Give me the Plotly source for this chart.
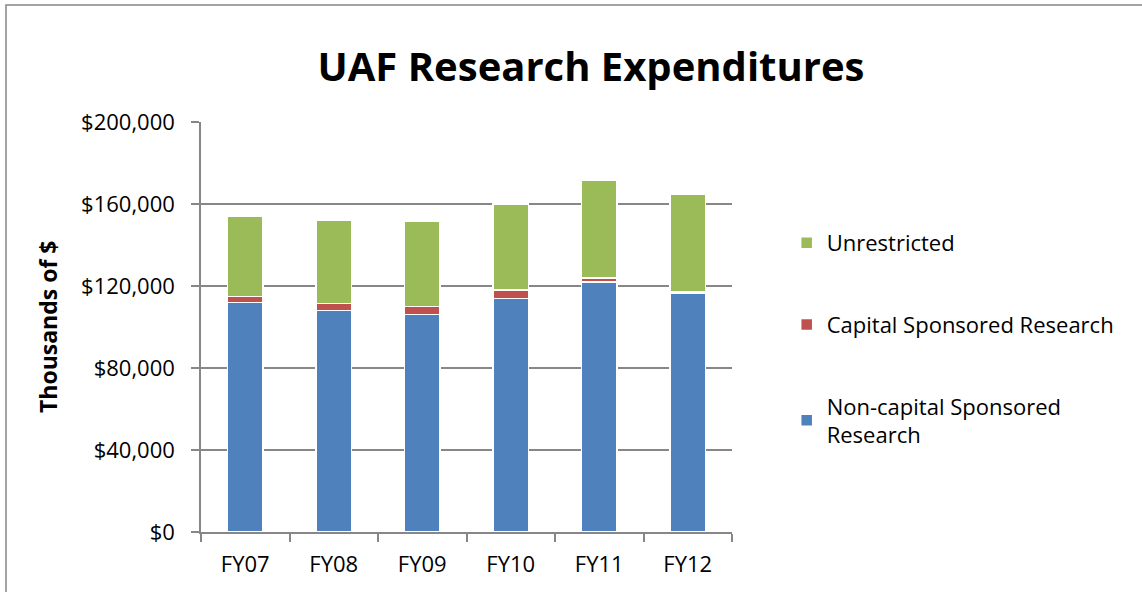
import plotly.graph_objects as go

categories = ["FY07", "FY08", "FY09", "FY10", "FY11", "FY12"]
noncapital = [112000, 108000, 106000, 114000, 122000, 116500]
capital = [3000, 3500, 4000, 4000, 2000, 800]
unrestricted = [39000, 40500, 41500, 42000, 47500, 47700]
tick_vals = [0, 40000, 80000, 120000, 160000, 200000]
tick_text = ["$0", "$40,000", "$80,000", "$120,000", "$160,000", "$200,000"]

FONT = "Open Sans, Lato, sans-serif"
GRID = "#878787"

fig = go.Figure()
series = [
    ("Non-capital Sponsored<br>Research", noncapital, "#4F81BD", 3),
    ("Capital Sponsored Research", capital, "#C0504D", 2),
    ("Unrestricted", unrestricted, "#9BBB59", 1),
]
for i, (name, vals, col, rank) in enumerate(series):
    fig.add_trace(go.Bar(
        x=categories, y=vals, name=name, legendgroup=f"g{i}", legendrank=rank,
        marker=dict(color=col, line=dict(color="white", width=1.5)),
    ))

fig.update_layout(
    width=1142, height=592,
    barmode="stack", bargap=0.6,
    plot_bgcolor="white", paper_bgcolor="white",
    margin=dict(l=201, r=410, t=122, b=60),
    font=dict(family=FONT, size=22, color="#000000"),
    title=dict(text="<b>UAF Research Expenditures</b>", font=dict(size=40, family=FONT),
               x=591/1142, xanchor="center", xref="container",
               y=1-67/592, yanchor="middle", yref="container"),
    legend=dict(x=1.103, xanchor="left", y=(532-222)/410, yanchor="top",
                traceorder="grouped", tracegroupgap=50,
                font=dict(size=22, family=FONT), itemwidth=30),
    showlegend=True,
)
fig.update_xaxes(
    showline=True, linecolor=GRID, linewidth=1.5,
    ticks="outside", tickson="boundaries", ticklen=8, tickcolor=GRID, tickwidth=1.5,
    tickfont=dict(size=22), showgrid=False, ticklabelstandoff=12,
)
fig.update_yaxes(
    range=[0, 200000], tickvals=tick_vals, ticktext=tick_text,
    showline=True, linecolor=GRID, linewidth=1.5,
    ticks="outside", ticklen=8, tickcolor=GRID, tickwidth=1.5,
    showgrid=True, gridcolor=GRID, gridwidth=1.5, zeroline=False,
    tickfont=dict(size=22), ticklabelstandoff=12,
)
fig.add_annotation(text="<b>Thousands of $</b>", textangle=-90, font=dict(size=23),
                   xref="paper", yref="paper", x=(48-201)/531, y=(532-327)/410,
                   xanchor="center", yanchor="middle", showarrow=False)
fig.add_shape(type="rect", xref="paper", yref="paper",
              x0=(6-201)/531, x1=2.0, y0=-1.0, y1=(532-5)/410,
              line=dict(color=GRID, width=1.5), layer="below")

fig.write_html("out.html", config={"displayModeBar": False},
               post_script="document.body.style.margin='0';")
